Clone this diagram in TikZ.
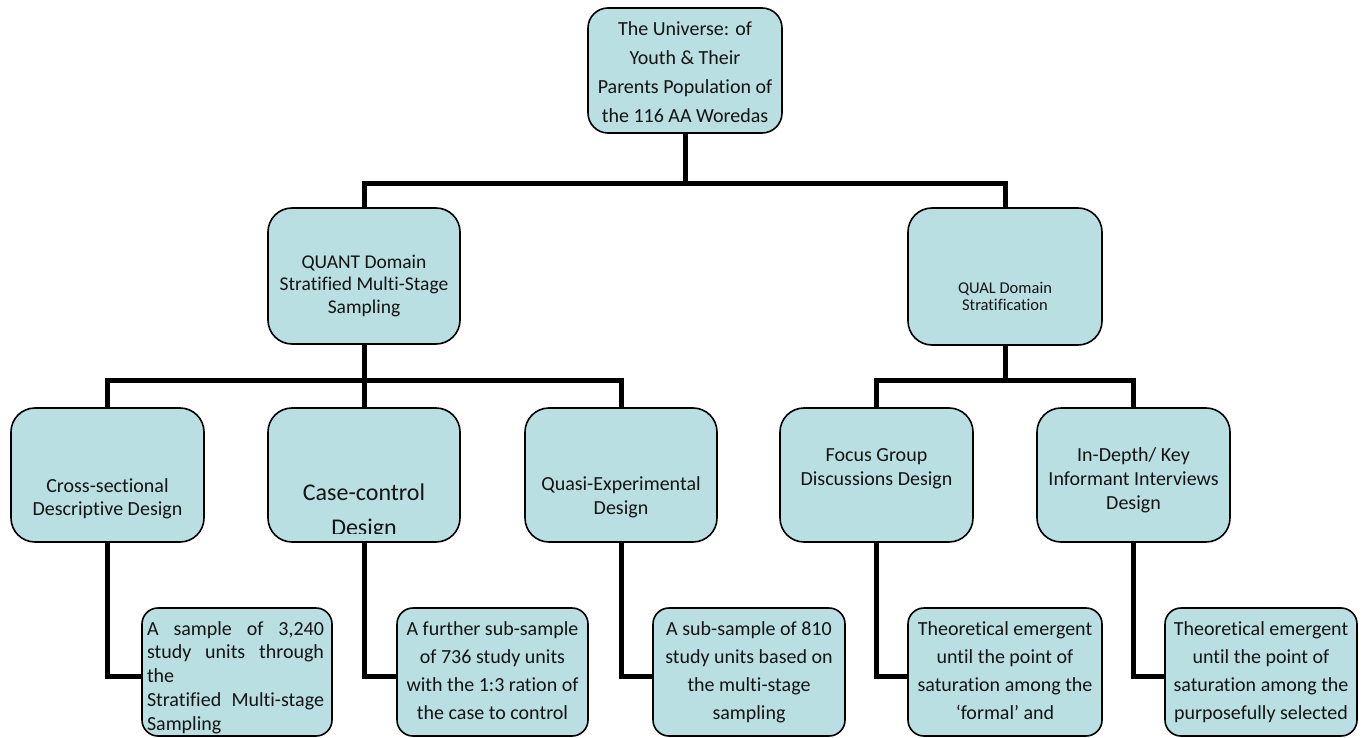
\documentclass[tikz,border=0pt]{standalone}
\usepackage{fontspec}
\setmainfont{Carlito}[Ligatures=NoCommon]
\definecolor{panelfill}{RGB}{185,223,227}
\tikzset{
  box/.style={draw=black, line width=1.6pt, fill=panelfill, outer sep=0pt, inner sep=0pt},
  link/.style={draw=black, line width=5pt, line join=miter},
  txt/.style={anchor=north, inner sep=0pt, outer sep=0pt, align=center, text=black!92},
}
% rounded panel given by its left, top, right and bottom edges
\newcommand\panel[6]{%
  \node[box, rounded corners=#6, minimum width={#4-#2}, minimum height={#5-#3}]
    (#1) at ({(#2+#4)/2},{(#3+#5)/2}) {};}
\newcommand\fs[2]{\fontsize{#1}{#2}\selectfont}
\begin{document}
\begin{tikzpicture}[x=1pt, y=-1pt]
\useasboundingbox (0,0) rectangle (1365,738);

% panels
\panel{root}{588}{8}{782}{133}{20pt}
\panel{quant}{268}{208}{460}{344}{24pt}
\panel{qual}{908}{208}{1102}{345}{24pt}
\panel{c1}{11}{408}{204}{542}{24pt}
\panel{c2}{268}{408}{460}{542}{24pt}
\panel{c3}{525}{408}{717}{542}{24pt}
\panel{c4}{780}{408}{973}{542}{24pt}
\panel{c5}{1037}{408}{1230}{542}{24pt}
\panel{b1}{142}{608}{332}{736}{16pt}
\panel{b2}{397}{608}{588}{736}{16pt}
\panel{b3}{653}{608}{845}{736}{16pt}
\panel{b4}{908}{608}{1102}{736}{16pt}
\panel{b5}{1165}{608}{1357}{736}{16pt}

% panel texts, clipped to their panels
\begin{scope}
  \clip[rounded corners=20pt] (root.north west) rectangle (root.south east);
  \node[txt, font=\fs{20}{28.7}] (root-t) at (685,15.9)
    {\strut The Universe: of\\Youth \& Their\\Parents Population of\\the 116 AA Woredas};
\end{scope}
\node[txt, font=\fs{19.5}{22.5}] (quant-t) at (364,252.3)
  {\strut QUANT Domain\\Stratified Multi-Stage\\Sampling};
\node[txt, font=\fs{16.5}{17.5}] (qual-t) at (1005,280.8)
  {\strut QUAL Domain\\Stratification};
\node[txt, font=\fs{20}{23}] (c1-t) at (107.5,475.9)
  {\strut Cross-sectional\\Descriptive Design};
\begin{scope}
  \clip (268,408) rectangle (460,533);
  \node[txt, font=\fs{24}{35}] (c2-t) at (364,475.5)
    {\strut Case-control\\Design};
\end{scope}
\node[txt, font=\fs{20}{24}] (c3-t) at (621,473.2)
  {\strut Quasi-Experimental\\Design};
\node[txt, font=\fs{20}{24}] (c4-t) at (876.5,444.2)
  {\strut Focus Group\\Discussions Design};
\node[txt, font=\fs{20}{24}] (c5-t) at (1133.5,444.2)
  {\strut In-Depth/ Key\\Informant Interviews\\Design};

\begin{scope}
  \clip[rounded corners=16pt] (b1.north west) rectangle (b1.south east);
  \node[txt, anchor=north west, align=left, font=\fs{20}{23.8}] (b1-t) at (147,618.4)
    {\strut\makebox[177pt][s]{A sample of 3,240}\\
     \makebox[177pt][s]{study units through}\\
     the\\
     \makebox[177pt][s]{Stratified Multi-stage}\\
     Sampling};
\end{scope}
\node[txt, font=\fs{20}{28}] (b2-t) at (492.5,615.4)
  {\strut A further sub-sample\\of 736 study units\\with the 1:3 ration of\\the case to control};
\node[txt, font=\fs{20}{28}] (b3-t) at (749,615.4)
  {\strut A sub-sample of 810\\study units based on\\the multi-stage\\sampling};
\node[txt, font=\fs{20}{28}] (b4-t) at (1005,615.4)
  {\strut Theoretical emergent\\until the point of\\saturation among the\\‘formal’ and};
\node[txt, font=\fs{20}{28}] (b5-t) at (1261,615.4)
  {\strut Theoretical emergent\\until the point of\\saturation among the\\purposefully selected};

% connector levels
\coordinate (h1) at (0,184);
\coordinate (h2) at (0,380);
\coordinate (h3) at (0,676);

% tree connectors
\draw[link] (root.south) -- (root.south |- h1);
\draw[link] (quant.north) |- (qual.north |- h1) -- (qual.north);
\draw[link] (quant.south) -- (c2.north);
\draw[link] (c1.north) |- (c3.north |- h2) -- (c3.north);
\draw[link] (qual.south) -- (qual.south |- h2);
\draw[link] (c4.north) |- (c5.north |- h2) -- (c5.north);
\draw[link] (c1.south) |- (b1.west |- h3);
\draw[link] (c2.south) |- (b2.west |- h3);
\draw[link] (c3.south) |- (b3.west |- h3);
\draw[link] (c4.south) |- (b4.west |- h3);
\draw[link] (c5.south) |- (b5.west |- h3);
\end{tikzpicture}
\end{document}
